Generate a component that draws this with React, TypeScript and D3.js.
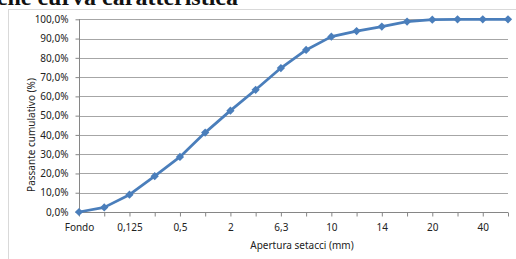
import React, { useEffect, useRef } from 'react';
import * as d3 from 'd3';

// setacci (mm) - only every other one is labelled on the axis
const categories = ['Fondo', '0,063', '0,125', '0,25', '0,5', '1', '2', '4', '6,3', '8', '10', '12,5', '14', '16', '20', '31,5', '40', '63'];
const passante = [0, 2.4, 9.0, 18.6, 28.6, 41.2, 52.6, 63.4, 74.7, 84.1, 91.0, 93.9, 96.2, 98.8, 99.8, 100, 100, 100];
const yTicks = [0, 10, 20, 30, 40, 50, 60, 70, 80, 90, 100];

const width = 516;
const height = 259;
const margin = { left: 79, right: 8, top: 19.3, bottom: 47 };
const font = "'Noto Sans', sans-serif";

function App() {
  const ref = useRef<SVGSVGElement | null>(null);

  useEffect(() => {
    const svg = d3.select(ref.current);
    svg.selectAll('*').remove();

    const x = d3.scalePoint<string>().domain(categories).range([margin.left, width - margin.right]);
    const y = d3.scaleLinear().domain([0, 100]).range([height - margin.bottom, margin.top]);

    // chart frame
    svg.append('rect')
      .attr('x', 8.5).attr('y', 9.5)
      .attr('width', 520).attr('height', 260)
      .attr('fill', 'white').attr('stroke', '#d9d9d9');

    // title (cut off at the top, as in the source page)
    svg.append('text')
      .attr('x', 238).attr('y', 5)
      .attr('text-anchor', 'end')
      .style('font', "bold 24px 'Liberation Serif', serif")
      .attr('fill', '#111')
      .text('che curva caratteristica');

    // grid
    svg.append('g')
      .selectAll('line')
      .data(yTicks.slice(1))
      .enter()
      .append('line')
      .attr('x1', margin.left).attr('x2', width - margin.right)
      .attr('y1', d => Math.round(y(d)) + 0.5).attr('y2', d => Math.round(y(d)) + 0.5)
      .attr('stroke', '#a6a6a6');

    const yAxis = d3.axisLeft(y).tickValues(yTicks).tickSize(4).tickPadding(7)
      .tickFormat(d => (d as number).toFixed(1).replace('.', ',') + '%');
    const gy = svg.append('g').attr('transform', `translate(${margin.left + 0.5},0)`).call(yAxis);
    gy.selectAll('.tick line').attr('stroke', '#868686');
    gy.select('.domain').attr('stroke', '#868686').attr('d', `M-0,${y(100)}V${y(0)}`);
    gy.selectAll('text').style('font', `10px ${font}`).attr('fill', '#222');

    const xAxis = d3.axisBottom(x).tickSize(4).tickPadding(7)
      .tickFormat((d, i) => (i % 2 === 0 ? d : ''));
    const gx = svg.append('g').attr('transform', `translate(0,${Math.round(y(0)) + 0.5})`).call(xAxis);
    gx.selectAll('.tick line').attr('stroke', '#868686');
    gx.select('.domain').attr('stroke', '#868686').attr('d', `M${margin.left},0H${width - margin.right}`);
    gx.selectAll('text').style('font', `10px ${font}`).attr('fill', '#222');

    // axis titles
    svg.append('text')
      .attr('x', 302).attr('y', 249)
      .attr('text-anchor', 'middle')
      .style('font', `10px ${font}`).attr('fill', '#222')
      .text('Apertura setacci (mm)');
    svg.append('text')
      .attr('transform', 'translate(35,135) rotate(-90)')
      .attr('text-anchor', 'middle')
      .style('font', `10px ${font}`).attr('fill', '#222')
      .text('Passante cumulativo (%)');

    const line = d3.line<number>()
      .x((d, i) => x(categories[i]) as number)
      .y(d => y(d));

    svg.append('path')
      .datum(passante)
      .attr('d', line)
      .attr('fill', 'none')
      .attr('stroke', '#4a7ebb')
      .attr('stroke-width', 2.75)
      .attr('stroke-linejoin', 'round');

    // Excel style diamond = square turned 45deg
    const marker = d3.symbol().type(d3.symbolSquare).size(34);
    svg.append('g')
      .selectAll('path')
      .data(passante)
      .enter()
      .append('path')
      .attr('d', marker)
      .attr('transform', (d, i) => `translate(${x(categories[i])},${y(d)}) rotate(45)`)
      .attr('fill', '#4a7ebb');
  }, []);

  return (
    <svg ref={ref} width={width} height={height} style={{ position: 'absolute', left: 0, top: 0 }} />
  );
}

export default App;
